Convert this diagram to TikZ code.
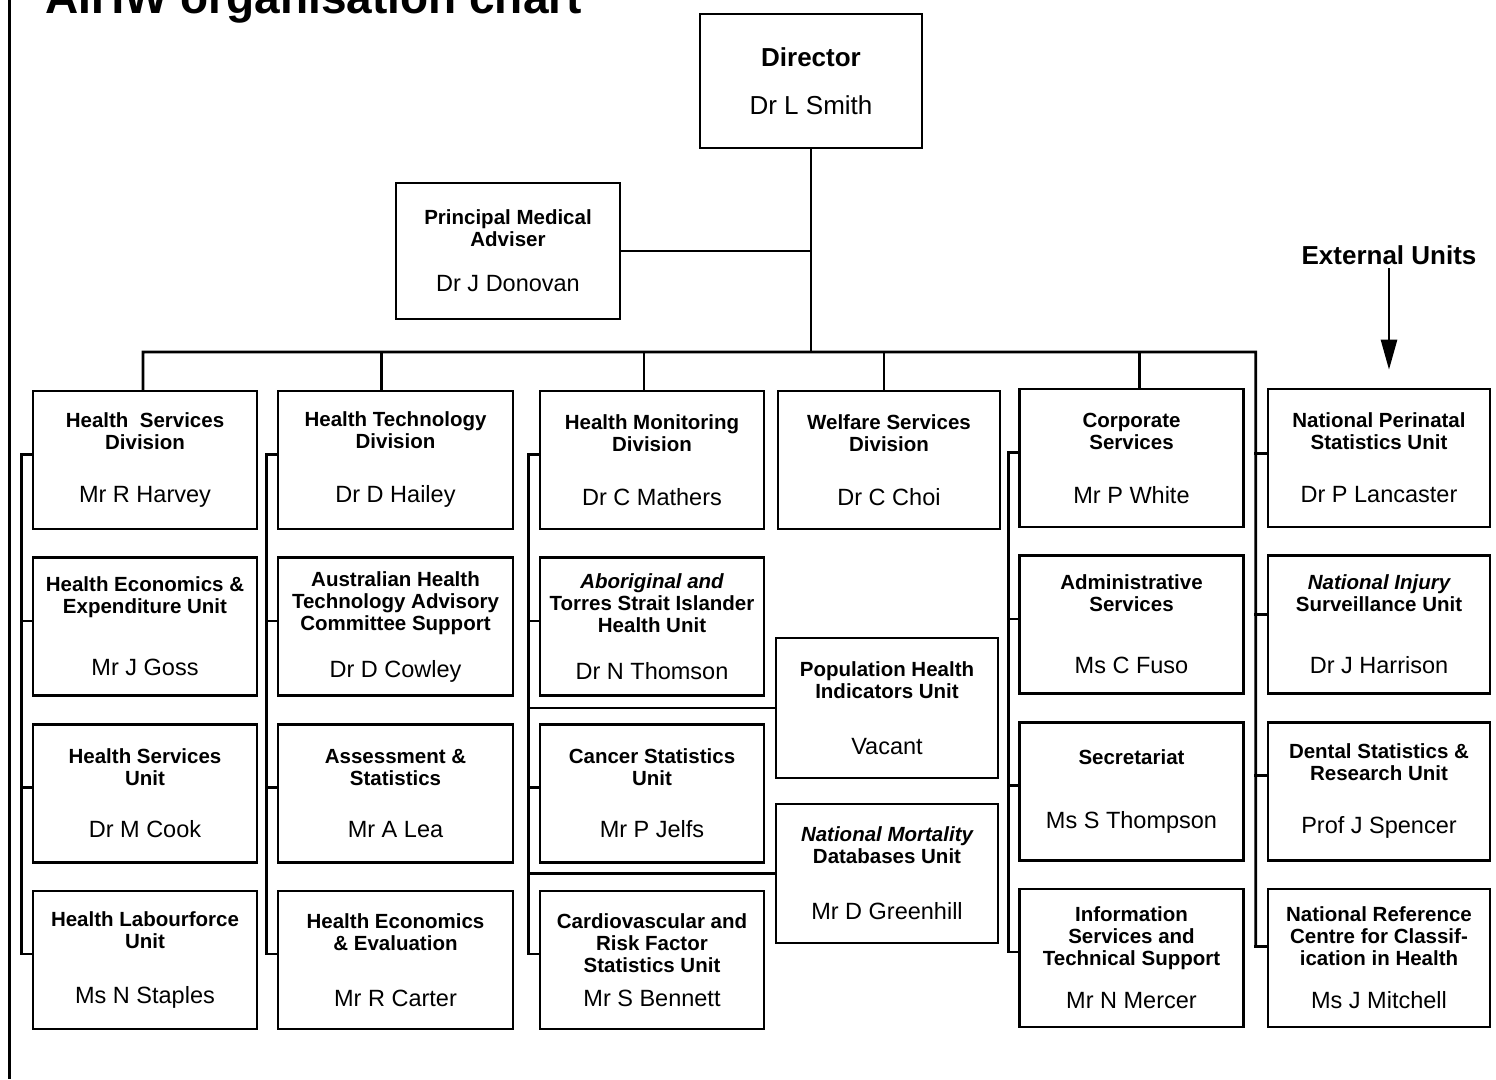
\documentclass[tikz,border=0pt]{standalone}
\usepackage{fontspec}
\setmainfont{Liberation Sans}
\usetikzlibrary{arrows.meta, positioning, calc}
\newcommand\namefont{\fontsize{23.5}{26}\selectfont\mdseries}

\begin{document}
\begin{tikzpicture}[
  x=1pt, y=-1pt,
  node distance=26pt,
  box/.style={draw, line width=2.6pt, align=center, inner sep=1pt,
              minimum width=224pt, minimum height=138pt,
              execute at begin node={\rule{0pt}{23pt}},
              font=\fontsize{20.5}{22}\selectfont\bfseries},
  wbox/.style={box, minimum width=235pt},
  link/.style={line width=2.6pt, line cap=rect},
  arr/.style={line width=2.6pt, -{Triangle[length=30pt, width=16pt]}},
  ]
\useasboundingbox (0,0) rectangle (1496,1079);
\draw[line width=3pt] (9,0) -- (9,1079);
\node[anchor=base west, inner sep=0pt, font=\fontsize{46}{50}\selectfont\bfseries] (title) at (45,13) {AIHW organisation chart};

% director and adviser
\node[box, execute at begin node={}, minimum width=222pt, minimum height=134pt, font=\fontsize{26}{28}\selectfont\bfseries] (dir) at (811,81) {Director\\[20pt]\mdseries Dr L Smith};
\node[box, minimum height=136pt] (pma) at (508,251) {Principal Medical\\Adviser\\[23pt]\namefont Dr J Donovan};

% health services
\node[box] (hsd) at (145,460) {Health~ Services\\Division\\[31pt]\namefont Mr R Harvey};
\node[box, below=of hsd] (hee) {Health Economics \&\\Expenditure Unit\\[40pt]\namefont Mr J Goss};
\node[box, below=of hee] (hsu) {Health Services\\Unit\\[30pt]\namefont Dr M Cook};
\node[box, below=of hsu] (hlu) {Health Labourforce\\Unit\\[33pt]\namefont Ms N Staples};

% health technology
\node[wbox] (htd) at (395.5,460) {Health Technology\\Division\\[32pt]\namefont Dr D Hailey};
\node[wbox, below=of htd] (ahta) {Australian Health\\Technology Advisory\\Committee Support\\[25pt]\namefont Dr D Cowley};
\node[wbox, below=of ahta] (ast) {Assessment \&\\Statistics\\[30pt]\namefont Mr A Lea};
\node[wbox, below=of ast] (hev) {Health Economics\\\& Evaluation\\[34pt]\namefont Mr R Carter};

% health monitoring
\node[box] (hmd) at (652,460) {Health Monitoring\\Division\\[32pt]\namefont Dr C Mathers};
\node[box, below=of hmd] (atsi) {{\itshape Aboriginal and}\\Torres Strait Islander\\Health Unit\\[25pt]\namefont Dr N Thomson};
\node[box, below=of atsi] (csu) {Cancer Statistics\\Unit\\[30pt]\namefont Mr P Jelfs};
\node[box, below=of csu] (cvd) {Cardiovascular and\\Risk Factor\\Statistics Unit\\[12pt]\namefont Mr S Bennett};

% welfare services
\node[box, minimum width=222pt] (wsd) at (889,460) {Welfare Services\\Division\\[32pt]\namefont Dr C Choi};
\node[box, minimum width=222pt, minimum height=140pt] (phi) at (887,708) {Population Health\\Indicators Unit\\[34pt]\namefont Vacant};
\node[box, minimum width=222pt, minimum height=139pt] (nmd) at (887,873.5) {{\itshape National Mortality}\\Databases Unit\\[34pt]\namefont Mr D Greenhill};

% corporate services
\node[box] (cor) at (1131.5,458) {Corporate\\Services\\[32pt]\namefont Mr P White};
\node[box, below=of cor] (adm) {Administrative\\Services\\[40pt]\namefont Ms C Fuso};
\node[box, below=of adm] (sec) {Secretariat\\[42pt]\namefont Ms S Thompson};
\node[box, below=of sec] (ist) {Information\\Services and\\Technical Support\\[21pt]\namefont Mr N Mercer};

% external units
\node[box, minimum width=222pt] (nps) at (1379,458) {National Perinatal\\Statistics Unit\\[31pt]\namefont Dr P Lancaster};
\node[box, minimum width=222pt, below=of nps] (nis) {{\itshape National Injury}\\Surveillance Unit\\[40pt]\namefont Dr J Harrison};
\node[box, minimum width=222pt, below=of nis] (dsr) {Dental Statistics \&\\Research Unit\\[31pt]\namefont Prof J Spencer};
\node[box, minimum width=222pt, below=of dsr] (nrc) {National Reference\\Centre for Classif-\\ication in Health\\[21pt]\namefont Ms J Mitchell};
\node[font=\fontsize{26}{28}\selectfont\bfseries] (extlbl) at (1389,255) {External Units};

% connectors
\coordinate (bar) at (811,352);
\coordinate (ext) at ($(nps.north west)+(-11,0)$);
\draw[link] (dir.south) -- (bar);
\draw[link] (pma.east) -- (pma.east -| bar);
\foreach \n/\f in {nps/.47, nis/.43, dsr/.39, nrc/.42}
  \draw[link] ($(\n.north west)!\f!(\n.south west)$) -- ++(-11,0) coordinate (\n-s);
\draw[link] ($(hsd.north)+(-2,0)$) |- (ext |- bar) -- (nrc-s);
\foreach \n/\dx in {htd/-14, hmd/-8, wsd/-5, cor/8}
  \draw[link] ($(\n.north)+(\dx,0)$) -- ($(\n.north |- bar)+(\dx,0)$);
\foreach \a/\b/\c/\d in {hsd/hee/hsu/hlu, htd/ahta/ast/hev, hmd/atsi/csu/cvd, cor/adm/sec/ist}{
  \foreach \n in {\a,\b,\c,\d}
    \draw[link] ($(\n.north west)!.46!(\n.south west)$) -- ++(-10,0);
  \draw[link] ($(\a.north west)!.46!(\a.south west)+(-10,0)$) -- ($(\d.north west)!.46!(\d.south west)+(-10,0)$);
}
\coordinate (s3) at ($(hmd.west)+(-10,0)$);
\draw[link] (phi.west) -- (phi.west -| s3);
\draw[link] (nmd.west) -- (nmd.west -| s3);
\draw[arr, shorten >=18pt] (extlbl.south) -- (extlbl.south |- nps.north);
\end{tikzpicture}
\end{document}
